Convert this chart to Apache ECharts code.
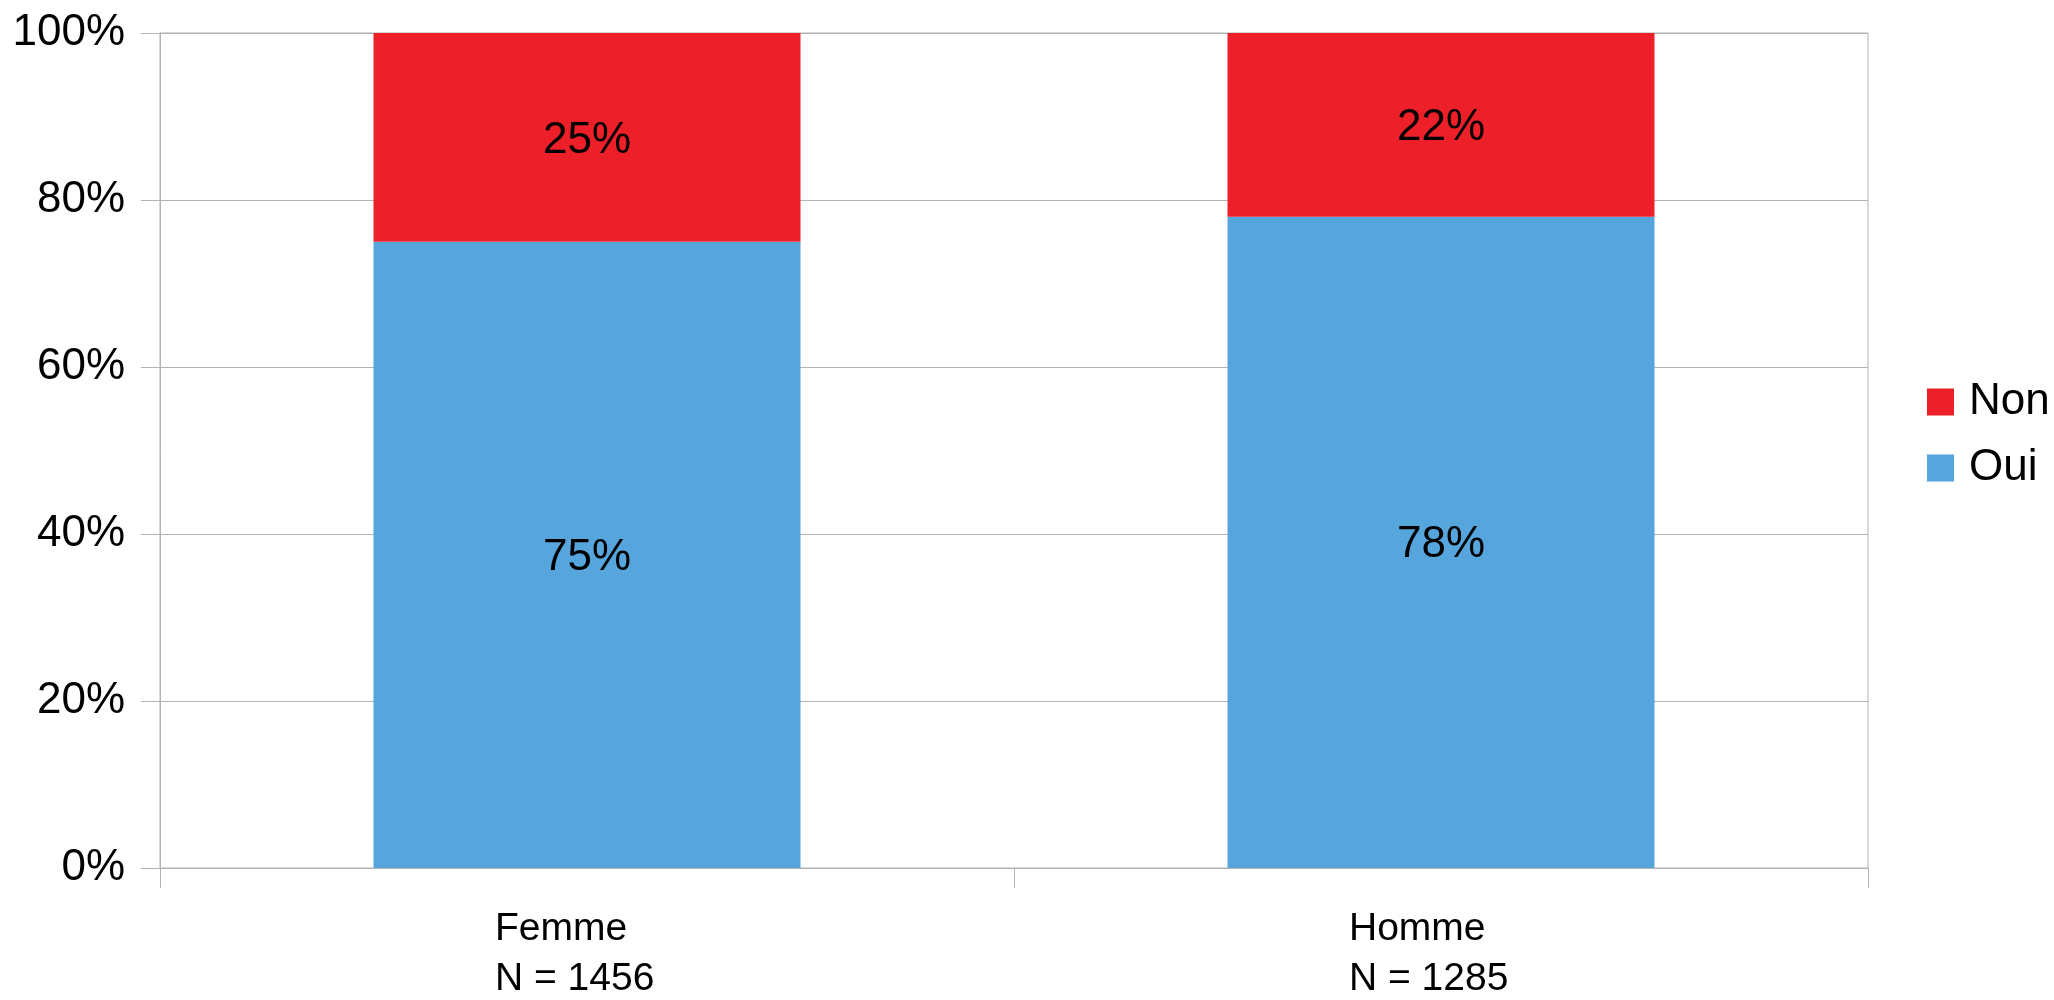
<!DOCTYPE html>
<html>
<head>
<meta charset="utf-8">
<style>
  html, body { margin: 0; padding: 0; background: #fff; }
  #chart { width: 2054px; height: 1000px; }
</style>
<script src="https://cdn.jsdelivr.net/npm/echarts@6/dist/echarts.min.js"></script>
</head>
<body>
<div id="chart"></div>
<script>
// données
const categories = ['Femme\nN = 1456', 'Homme\nN = 1285'];
const oui = [75, 78];
const non = [25, 22];
const yTicks = [0, 20, 40, 60, 80, 100];

const FONT = 'Liberation Sans';
const GRID_COLOR = '#b3b3b3';

const chart = echarts.init(document.getElementById('chart'));

const barLabel = {
  show: true,
  position: 'inside',
  offset: [0, 3],
  formatter: '{c}%',
  fontFamily: FONT,
  fontSize: 44,
  color: '#000',
  textBorderWidth: 0
};

const option = {
  animation: false,
  textStyle: { fontFamily: FONT },
  grid: {
    left: 160,
    right: 186,
    top: 33,
    bottom: 132,
    show: true,
    borderColor: GRID_COLOR,
    borderWidth: 1
  },
  legend: {
    data: ['Non', 'Oui'],
    orient: 'vertical',
    left: 1927,
    top: 380,
    padding: 0,
    itemWidth: 27,
    itemHeight: 27,
    itemGap: 22,
    icon: 'rect',
    textStyle: {
      fontFamily: FONT,
      fontSize: 44,
      color: '#000',
      padding: [0, 0, 0, 10]
    }
  },
  xAxis: {
    type: 'category',
    data: categories,
    axisLine: { lineStyle: { color: GRID_COLOR } },
    axisTick: { show: true, length: 20, lineStyle: { color: GRID_COLOR } },
    axisLabel: {
      interval: 0,
      margin: 36,
      formatter: v => v.split('\n').map(s => '{a|' + s + '}').join('\n'),
      rich: {
        a: {
          fontFamily: FONT,
          fontSize: 39,
          color: '#000',
          width: 184,
          align: 'left',
          lineHeight: 50
        }
      }
    }
  },
  yAxis: {
    type: 'value',
    min: yTicks[0],
    max: yTicks[yTicks.length - 1],
    interval: yTicks[1] - yTicks[0],
    axisLine: { show: true, lineStyle: { color: GRID_COLOR } },
    axisTick: { show: true, length: 19, lineStyle: { color: GRID_COLOR } },
    splitLine: { lineStyle: { color: GRID_COLOR } },
    axisLabel: {
      formatter: '{value}%',
      fontFamily: FONT,
      fontSize: 44,
      color: '#000',
      margin: 35
    }
  },
  series: [
    {
      name: 'Oui',
      type: 'bar',
      stack: 'total',
      barWidth: '50%',
      data: oui,
      itemStyle: { color: '#56A5DC' },
      label: barLabel
    },
    {
      name: 'Non',
      type: 'bar',
      stack: 'total',
      barWidth: '50%',
      data: non,
      itemStyle: { color: '#ED1F29' },
      label: barLabel
    }
  ]
};

chart.setOption(option);
</script>
</body>
</html>
